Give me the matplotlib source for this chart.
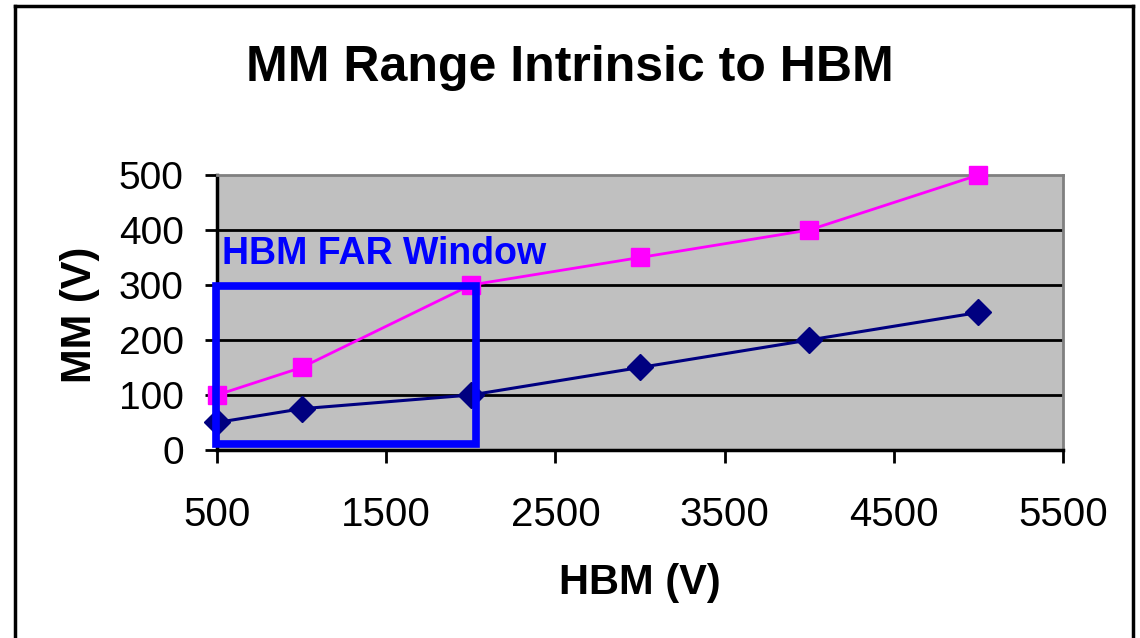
import numpy as np
import matplotlib.pyplot as plt
from matplotlib.patches import Rectangle
from matplotlib.lines import Line2D

plt.rcParams['font.family'] = ['Liberation Sans', 'DejaVu Sans']

# datos
hbm = [500, 1000, 2000, 3000, 4000, 5000]
mm_bajo = [50, 75, 100, 150, 200, 250]
mm_alto = [100, 150, 300, 350, 400, 500]

x_ticks = [500, 1500, 2500, 3500, 4500, 5500]
y_ticks = [0, 100, 200, 300, 400, 500]

# ventana FAR (en unidades de datos)
ventana_x = [494, 2030]
ventana_y = [11, 298]

fig = plt.figure(figsize=(11.4, 6.38), dpi=100)
ax = fig.add_axes([0.1904, 0.2947, 0.7421, 0.4310])
ax.set_facecolor('#C0C0C0')

ax.set_xlim(500, 5500)
ax.set_ylim(0, 500)
ax.set_xticks(x_ticks)
ax.set_yticks(y_ticks)

for y in y_ticks[1:-1]:
    ax.axhline(y, color='black', lw=2, zorder=1)

ax.plot(hbm, mm_bajo, color='#000080', lw=2.2, marker='D', ms=13,
        zorder=3, clip_on=False)
ax.plot(hbm, mm_alto, color='#FF00FF', lw=2, marker='s', ms=13,
        zorder=3, clip_on=False)

ax.add_patch(Rectangle((ventana_x[0], ventana_y[0]),
                       ventana_x[1] - ventana_x[0], ventana_y[1] - ventana_y[0],
                       fill=False, edgecolor='#0000FF', lw=5.5, zorder=4,
                       clip_on=False))
ax.text(530, 357, 'HBM FAR Window', color='#0000FF', fontsize=27,
        fontweight='bold', va='center', ha='left', zorder=5)

for lado in ['top', 'right']:
    ax.spines[lado].set_color('#808080')
    ax.spines[lado].set_linewidth(2)
for lado in ['left', 'bottom']:
    ax.spines[lado].set_color('black')
    ax.spines[lado].set_linewidth(2.5)

ax.tick_params(axis='both', direction='out', length=9, width=2, color='black')
ax.tick_params(axis='y', labelsize=28, pad=15)
ax.tick_params(axis='x', labelsize=29, pad=24)

ax.set_xlabel('HBM (V)', fontsize=30, fontweight='bold')
ax.set_ylabel('MM (V)', fontsize=30, fontweight='bold')
ax.xaxis.set_label_coords(0.5, -0.41)
ax.yaxis.set_label_coords(-0.138, 0.49)

fig.text(0.5, 0.893, 'MM Range Intrinsic to HBM', fontsize=36,
         fontweight='bold', ha='center', va='center')

# marco exterior (sin borde inferior)
x0, x1, ytop = 15 / 1140, 1133 / 1140, 1 - 6 / 638
for xs, ys in [([x0, x0], [0, ytop]), ([x0, x1], [ytop, ytop]), ([x1, x1], [ytop, 0])]:
    fig.add_artist(Line2D(xs, ys, color='black', lw=2.5, transform=fig.transFigure))

fig.savefig('out.png', dpi=100)
